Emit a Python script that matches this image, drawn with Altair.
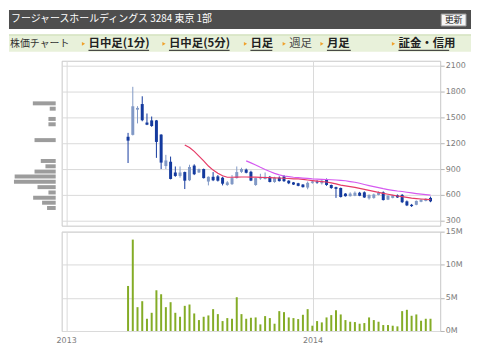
import altair as alt
import pandas as pd

# ---------------- data ----------------
first_week = "2013-04-02"
opens = [1275, 1297, 1590, 1655, 1440, 1465, 1465, 1300, 935, 985, 860, 820, 865,
         770, 940, 860, 900, 755, 810, 815, 800, 715, 725, 795, 868, 893,
         868, 715, 790, 785, 810, 750, 800, 815, 765, 745, 735, 720, 685,
         740, 755, 735, 775, 715, 690, 680, 615, 585, 590, 625, 630, 560,
         565, 600, 630, 545, 565, 595, 600, 525, 485, 485, 520, 530, 565]
highs = [1320, 1855, 1630, 1745, 1545, 1510, 1470, 1305, 1065, 1045, 930, 930, 870,
         950, 955, 905, 905, 815, 865, 830, 810, 760, 830, 930, 915, 905,
         880, 800, 845, 860, 820, 810, 815, 830, 770, 750, 740, 725, 755,
         765, 770, 785, 790, 720, 695, 685, 620, 630, 640, 635, 640, 605,
         615, 640, 640, 595, 600, 605, 610, 535, 495, 535, 550, 560, 580]
lows = [970, 1290, 1430, 1455, 1410, 1390, 1030, 900, 900, 780, 810, 800, 668,
        760, 830, 855, 790, 710, 760, 755, 710, 705, 715, 790, 855, 850,
        760, 705, 775, 780, 745, 740, 755, 750, 725, 715, 700, 685, 665,
        730, 730, 720, 705, 670, 565, 570, 580, 580, 585, 585, 565, 545,
        555, 595, 535, 540, 560, 565, 505, 470, 460, 480, 515, 525, 515]
closes = [1230, 1629, 1610, 1467, 1415, 1400, 1215, 975, 1000, 785, 820, 860, 765,
          925, 840, 900, 795, 810, 770, 765, 730, 745, 795, 865, 900, 857,
          766, 795, 805, 810, 750, 800, 760, 760, 735, 720, 705, 690, 740,
          755, 745, 765, 715, 680, 670, 575, 585, 615, 625, 590, 570, 600,
          605, 625, 540, 590, 595, 570, 515, 478, 470, 530, 545, 555, 525]
volume_millions = [6.8, 13.8, 3.6, 4.5, 1.85, 2.75, 6.15, 5.55, 3.6, 4.35,
                   2.75, 2.15, 3.8, 4.0, 2.65, 1.65, 2.15, 2.35, 3.3, 2.55,
                   1.5, 1.95, 1.85, 5.1, 2.55, 1.85, 2.0, 2.05, 1.0, 2.25,
                   1.95, 1.1, 3.0, 2.85, 2.05, 1.95, 1.8, 2.45, 3.3, 0.8,
                   1.5, 1.3, 2.05, 2.4, 3.15, 2.5, 1.65, 1.4, 1.35, 1.1,
                   1.2, 2.05, 1.65, 1.4, 0.9, 0.9, 0.8, 0.7, 3.0, 3.2,
                   2.3, 2.5, 1.55, 1.85, 1.85]
ma13_values = [None] * 12 + [
    1180, 1150, 1105, 1050, 996, 935, 888, 852, 822, 805, 805, 807, 808, 808,
    807, 806, 804, 802, 800, 798, 796, 793, 790, 787, 785, 780, 773, 766,
    760, 755, 750, 740, 727, 714, 705, 696, 687, 675, 664, 652, 641, 629,
    618, 607, 597, 587, 579, 571, 563, 557, 552, 548, 545]
ma26_values = [None] * 25 + [
    995, 972, 948, 920, 895, 872, 850, 833, 819, 812, 805, 800, 795, 791,
    786, 784, 781, 779, 776, 773, 769, 764, 755, 747, 735, 721, 708, 696,
    684, 672, 662, 653, 645, 639, 631, 623, 615, 608, 602, 597]
profile_prices = [1663, 1601, 1482, 1420, 1236, 994, 932, 871, 813, 752, 690, 628, 567, 509, 448]
profile_amounts = [23, 6, 7.3, 7.3, 21.3, 15, 10.3, 21.3, 41.3, 42, 18.3, 7.3, 22.7, 13.7, 8.7]
price_ticks = [300, 600, 900, 1200, 1500, 1800, 2100]
volume_ticks = [0, 5000000, 10000000, 15000000]
year_dates = ["2013-01-01T00:00:00", "2014-01-01T00:00:00"]
year_labels = ["2013", "2014"]

title_text = "フージャースホールディングス  3284  東京 1部"
button_text = "更新"
tab_title = "株価チャート"
tab_labels = ["日中足(1分)", "日中足(5分)", "日足", "週足", "月足", "証金・信用"]
tab_is_link = [True, True, True, False, True, True]

# ---------------- layout / style ----------------
PLOT_W, PRICE_H, VOL_H = 381, 166, 100
DARK, LIGHT = "#143a9e", "#8199c6"
MA13_C, MA26_C = "#e63a66", "#d55af0"
VOL_C, PROF_C, GRID = "#84ac26", "#9c9c9c", "#dadada"
LABEL_C = "#7a7a7a"
tab_x = [27, 108, 190, 229, 267, 339]
tab_end = [88, 169, 212, 251, 291, 390]

dates = pd.date_range(first_week, periods=len(closes), freq="7D")
df = pd.DataFrame({"date": dates, "open": opens, "high": highs, "low": lows,
                   "close": closes,
                   "volume": [v * 1e6 for v in volume_millions]})
df["dir"] = ["up" if c >= o else "down" for o, c in zip(opens, closes)]
ma13_df = pd.DataFrame({"date": dates, "ma": ma13_values}).dropna()
ma26_df = pd.DataFrame({"date": dates, "ma": ma26_values}).dropna()
prof_df = pd.DataFrame({"price": profile_prices, "amount": profile_amounts})
year_df = pd.DataFrame({"date": year_dates, "label": year_labels})

years = [alt.DateTime(year=2013, month=1, date=1), alt.DateTime(year=2014, month=1, date=1)]
x_scale = alt.Scale(domain=[alt.DateTime(year=2013, month=1, date=1),
                            alt.DateTime(year=2014, month=7, date=1)])
x_axis = alt.Axis(values=years, grid=True, gridColor=GRID, labels=False,
                  ticks=False, domain=False, title=None)
price_scale = alt.Scale(domain=[300, 2100])
price_axis = alt.Axis(orient="right", values=price_ticks, title=None, grid=True,
                      gridColor=GRID, domain=False, tickSize=4, tickColor="#b5b5b5",
                      labelPadding=1, labelColor=LABEL_C, labelFontSize=8,
                      labelFont="DejaVu Sans", format="d")
color = alt.Color("dir:N", scale=alt.Scale(domain=["up", "down"], range=[LIGHT, DARK]),
                  legend=None)

X = alt.X("date:T", scale=x_scale, axis=x_axis)

wick = alt.Chart(df).mark_rule(strokeWidth=1).encode(
    x=X, y=alt.Y("low:Q", scale=price_scale, axis=price_axis), y2="high:Q", color=color)
body = alt.Chart(df).mark_bar(size=3).encode(
    x=X, y=alt.Y("open:Q", scale=price_scale, axis=price_axis), y2="close:Q", color=color)
ma13 = alt.Chart(ma13_df).mark_line(color=MA13_C, strokeWidth=1.2).encode(
    x=X, y=alt.Y("ma:Q", scale=price_scale, axis=price_axis))
ma26 = alt.Chart(ma26_df).mark_line(color=MA26_C, strokeWidth=1.2).encode(
    x=X, y=alt.Y("ma:Q", scale=price_scale, axis=price_axis))
main = alt.layer(wick, body, ma13, ma26)

profile = alt.Chart(prof_df).mark_bar(orient="horizontal", size=4, color=PROF_C).encode(
    x=alt.X("amount:Q", scale=alt.Scale(domain=[0, 42], range=[-6, -48]), axis=None),
    y=alt.Y("price:Q", scale=price_scale, axis=price_axis))

one = pd.DataFrame({"k": [0]})


def box(x1, x2, y1, y2, **kw):
    return alt.Chart(one).mark_rect(**kw).encode(
        x=alt.value(x1), x2=alt.value(x2), y=alt.value(y1), y2=alt.value(y2))


def label(txt, x, y, **kw):
    opts = dict(align="left", baseline="middle", font="Noto Sans CJK JP")
    opts.update(kw)
    return alt.Chart(one).mark_text(text=txt, **opts).encode(x=alt.value(x), y=alt.value(y))


decor = [
    box(-53, 412, -51, -32, fill="#4e4e4e"),
    label(title_text, -51, -42, fontSize=10, color="white"),
    box(382, 407, -47, -35, fill="#f5f5f5", stroke="#9a9a9a", strokeWidth=1),
    label(button_text, 394.5, -41, fontSize=9, color="#222222", align="center"),
    box(-53, 412, -26, -9, fill="#e8f1da"),
    alt.Chart(one).mark_rule(color="#c6d8aa").encode(
        x=alt.value(-53), x2=alt.value(412), y=alt.value(-26)),
    label(tab_title, -52, -17, fontSize=10, color="#333333"),
]
for txt, xs, xe, link in zip(tab_labels, tab_x, tab_end, tab_is_link):
    decor.append(alt.Chart(one).mark_point(shape="triangle-right", filled=True, size=14,
                                           color="#f0a02a", opacity=1).encode(
        x=alt.value(xs - 5), y=alt.value(-17)))
    decor.append(label(txt, xs, -17, fontSize=11.5,
                       fontWeight="bold" if link else "normal",
                       color="#222222" if link else "#444444"))
    if link:
        decor.append(alt.Chart(one).mark_rule(color="#222222", strokeWidth=1).encode(
            x=alt.value(xs), x2=alt.value(xe), y=alt.value(-10.5)))

price_chart = alt.layer(main, profile, *decor).resolve_scale(x="independent").properties(
    width=PLOT_W, height=PRICE_H)

vol_axis = alt.Axis(orient="right", values=volume_ticks, title=None, grid=True,
                    gridColor=GRID, domain=False, tickSize=4, tickColor="#b5b5b5",
                    labelPadding=1, labelColor=LABEL_C, labelFontSize=8,
                    labelFont="DejaVu Sans", labelExpr="datum.value / 1000000 + 'M'")
vol_bars = alt.Chart(df).mark_bar(size=2, color=VOL_C).encode(
    x=X,
    y=alt.Y("volume:Q", scale=alt.Scale(domain=[0, 15000000]), axis=vol_axis),
)
year_text = alt.Chart(year_df).mark_text(
    align="center", baseline="middle", font="DejaVu Sans", fontSize=8, color=LABEL_C
).encode(x=X, y=alt.value(VOL_H + 10), text="label:N")
vol_chart = alt.layer(vol_bars, year_text).properties(width=PLOT_W, height=VOL_H)

chart = alt.vconcat(price_chart, vol_chart, spacing=6, bounds="flush").configure_view(
    stroke="#c8c8c8").properties(padding=0, background="white")

chart.save("out.html", embed_options={"renderer": "svg", "actions": False})
